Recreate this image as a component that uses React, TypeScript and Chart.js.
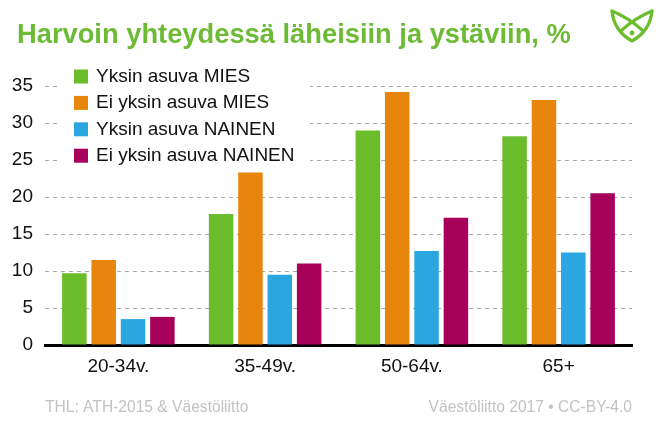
import React, { useEffect, useRef } from "react";
import { Chart, registerables } from "chart.js";

Chart.register(...registerables);

const titleText = "Harvoin yhteydessä läheisiin ja ystäviin, %";
const categories = ["20-34v.", "35-49v.", "50-64v.", "65+"];
const seriesNames = [
  "Yksin asuva MIES",
  "Ei yksin asuva MIES",
  "Yksin asuva NAINEN",
  "Ei yksin asuva NAINEN",
];
const yksinMies = [9.7, 17.7, 29.0, 28.2];
const eiYksinMies = [11.5, 23.3, 34.2, 33.1];
const yksinNainen = [3.5, 9.5, 12.7, 12.5];
const eiYksinNainen = [3.8, 11.0, 17.2, 20.5];
const seriesColors = ["#6CBD2C", "#E8850C", "#2AA6E0", "#A6005B"];
const yMin = 0;
const yMax = 35;
const yStep = 5;
const footerLeft = "THL: ATH-2015 & Väestöliitto";
const footerRight = "Väestöliitto 2017 • CC-BY-4.0";

const FONT = "'Liberation Sans', Arial, Helvetica, sans-serif";

const overlayPlugin = {
  id: "overlay",
  afterDraw(chart: any) {
    const ctx = chart.ctx;
    const area = chart.chartArea;
    ctx.save();
    // title
    ctx.font = `bold 27.3px ${FONT}`;
    ctx.fillStyle = "#6DBB35";
    ctx.textAlign = "left";
    ctx.textBaseline = "alphabetic";
    ctx.fillText(titleText, 17, 43.3);
    // legend background
    ctx.fillStyle = "#ffffff";
    ctx.fillRect(area.left + 13, 62, 252, 106);
    // legend items
    ctx.font = `19px ${FONT}`;
    ctx.textBaseline = "middle";
    ctx.textAlign = "left";
    chart.data.datasets.forEach((ds: any, i: number) => {
      const cy = 76.5 + i * 26.4;
      ctx.fillStyle = ds.backgroundColor;
      ctx.fillRect(area.left + 29, cy - 7, 14, 14);
      ctx.fillStyle = "#111111";
      ctx.fillText(ds.label, area.left + 51, cy);
    });
    // footer
    ctx.font = `15.6px ${FONT}`;
    ctx.fillStyle = "#c2c2c2";
    ctx.textAlign = "left";
    ctx.fillText(footerLeft, area.left, 408);
    ctx.textAlign = "right";
    ctx.fillText(footerRight, area.right, 408);
    // logo
    ctx.strokeStyle = "#6CBD2C";
    ctx.fillStyle = "#6CBD2C";
    ctx.lineWidth = 3.2;
    ctx.lineJoin = "round";
    ctx.lineCap = "round";
    const L = { x: 612, y: 11 };
    const R = { x: 652, y: 11 };
    const B = { x: 632, y: 41 };
    ctx.beginPath();
    ctx.moveTo(L.x, L.y);
    ctx.quadraticCurveTo(614, 31, B.x, B.y);
    ctx.quadraticCurveTo(650, 31, R.x, R.y);
    ctx.stroke();
    ctx.beginPath();
    ctx.moveTo(L.x, L.y);
    ctx.quadraticCurveTo(629, 18, 642, 30);
    ctx.stroke();
    ctx.beginPath();
    ctx.moveTo(R.x, R.y);
    ctx.quadraticCurveTo(635, 18, 622, 30);
    ctx.stroke();
    ctx.beginPath();
    ctx.arc(632, 33, 2.4, 0, Math.PI * 2);
    ctx.fill();
    ctx.restore();
  },
};

export default function App() {
  const ref = useRef<HTMLCanvasElement | null>(null);

  useEffect(() => {
    if (!ref.current) return;
    const values = [yksinMies, eiYksinMies, yksinNainen, eiYksinNainen];
    const chart = new Chart(ref.current, {
      type: "bar",
      data: {
        labels: categories,
        datasets: seriesNames.map((name, i) => ({
          label: name,
          data: values[i],
          backgroundColor: seriesColors[i],
          borderWidth: 0,
          categoryPercentage: 0.8,
          barPercentage: 0.835,
        })),
      },
      options: {
        responsive: false,
        animation: false,
        devicePixelRatio: 1,
        layout: { padding: { left: 0, right: 30, top: 86, bottom: 50 } },
        plugins: {
          legend: { display: false },
          tooltip: { enabled: false },
          title: { display: false },
        },
        scales: {
          x: {
            grid: { display: false, drawTicks: false },
            border: { display: true, color: "#000000", width: 3 },
            ticks: {
              color: "#111111",
              font: { family: FONT, size: 19 },
              padding: 10,
            },
            afterFit: (s: any) => {
              s.height = 45;
            },
          },
          y: {
            min: yMin,
            max: yMax,
            grid: { color: "#a8a8a8", lineWidth: 1, drawTicks: false },
            border: { display: false, dash: [4, 4] },
            ticks: {
              stepSize: yStep,
              color: "#111111",
              font: { family: FONT, size: 19 },
              padding: 12,
            },
            afterFit: (s: any) => {
              s.width = 45;
            },
          },
        },
      },
      plugins: [overlayPlugin],
    });
    return () => chart.destroy();
  }, []);

  return (
    <div
      style={{
        position: "fixed",
        left: 0,
        top: 0,
        width: 662,
        height: 440,
        background: "#ffffff",
      }}
    >
      <canvas ref={ref} width={662} height={440} style={{ display: "block" }} />
    </div>
  );
}
